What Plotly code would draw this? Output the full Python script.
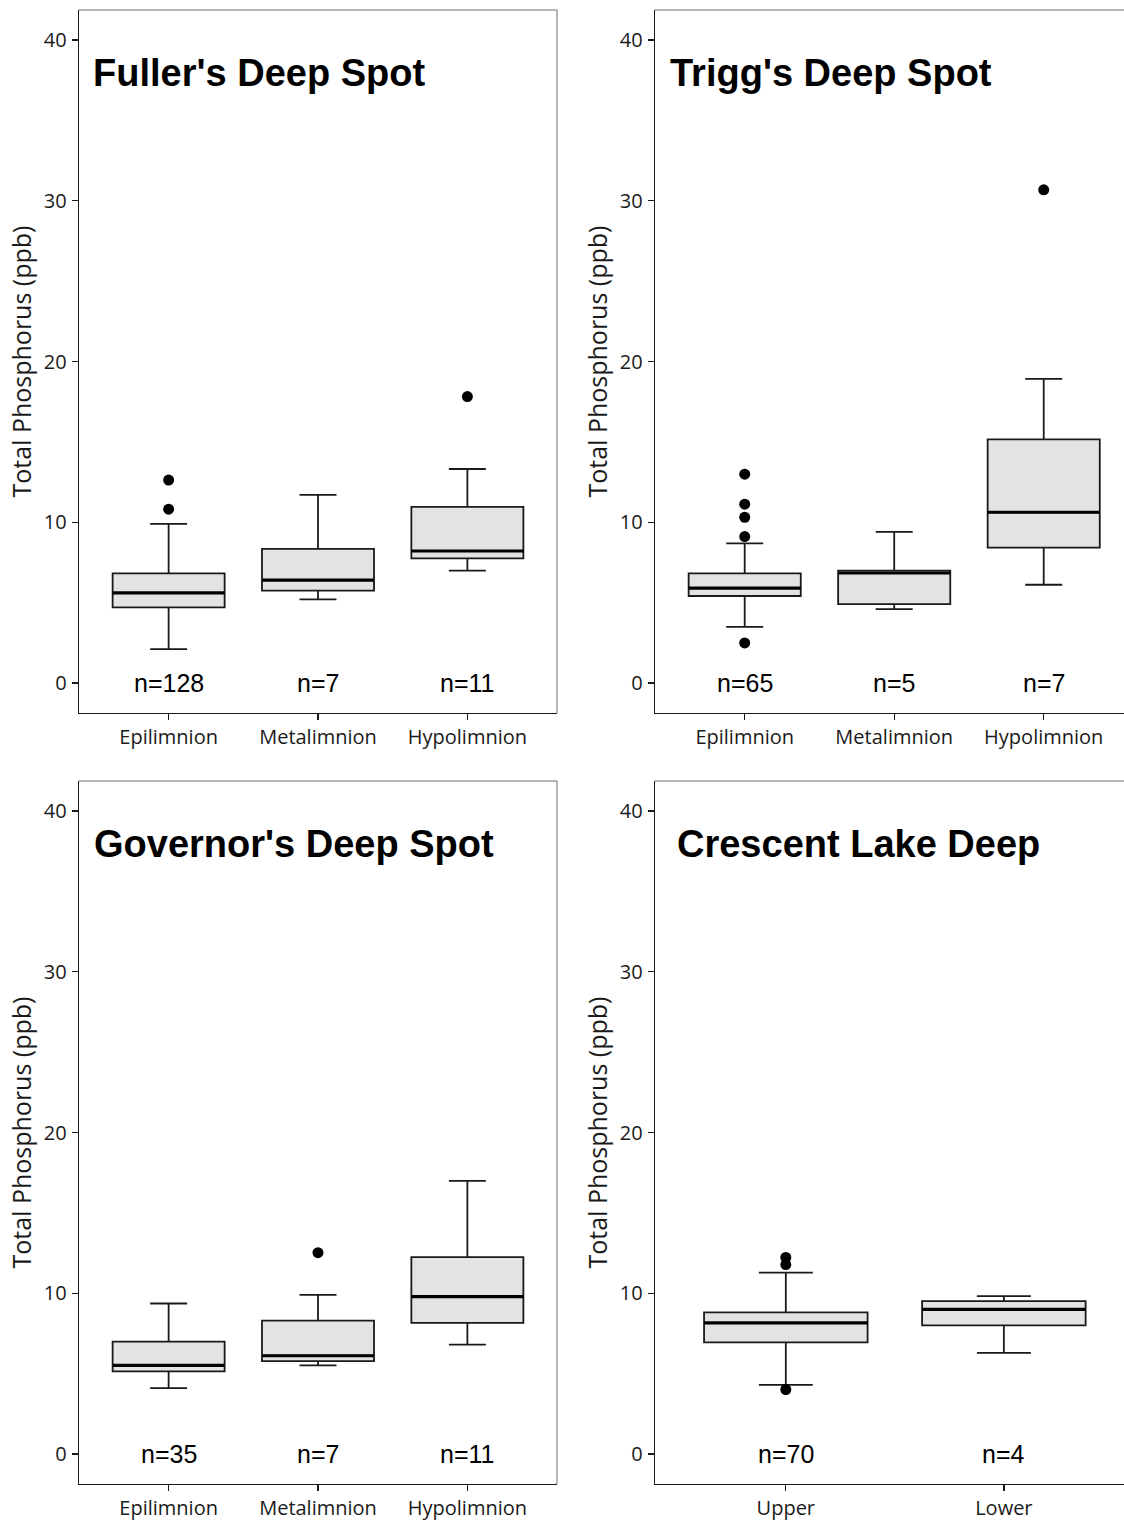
import plotly.graph_objects as go

W, H = 1124, 1520

# ---------------- data ----------------
titles = ["Fuller's Deep Spot", "Trigg's Deep Spot", "Governor's Deep Spot", "Crescent Lake Deep"]
layers3 = ["Epilimnion", "Metalimnion", "Hypolimnion"]
layers2 = ["Upper", "Lower"]
y_ticks = [0, 10, 20, 30, 40]
y_title = "Total Phosphorus (ppb)"

fuller_q1 = [4.70, 5.74, 7.75]
fuller_med = [5.61, 6.40, 8.21]
fuller_q3 = [6.82, 8.34, 10.96]
fuller_lo = [2.10, 5.20, 6.99]
fuller_hi = [9.90, 11.70, 13.31]
fuller_n = [128, 7, 11]
fuller_out_cat = ["Epilimnion", "Epilimnion", "Hypolimnion"]
fuller_out_val = [12.62, 10.81, 17.82]

trigg_q1 = [5.41, 4.91, 8.42]
trigg_med = [5.90, 6.84, 10.62]
trigg_q3 = [6.82, 6.99, 15.16]
trigg_lo = [3.49, 4.59, 6.11]
trigg_hi = [8.69, 9.40, 18.92]
trigg_n = [65, 5, 7]
trigg_out_cat = ["Epilimnion"] * 5 + ["Hypolimnion"]
trigg_out_val = [12.99, 11.12, 10.31, 9.11, 2.49, 30.68]

gov_q1 = [5.14, 5.78, 8.15]
gov_med = [5.51, 6.11, 9.79]
gov_q3 = [6.99, 8.30, 12.25]
gov_lo = [4.10, 5.51, 6.80]
gov_hi = [9.36, 9.90, 16.99]
gov_n = [35, 7, 11]
gov_out_cat = ["Metalimnion"]
gov_out_val = [12.52]

cres_q1 = [6.94, 8.00]
cres_med = [8.16, 8.99]
cres_q3 = [8.81, 9.51]
cres_lo = [4.30, 6.29]
cres_hi = [11.28, 9.82]
cres_n = [70, 4]
cres_out_cat = ["Upper", "Upper", "Upper"]
cres_out_val = [12.23, 11.78, 4.01]

panels = [
    dict(title=titles[0], cats=layers3, q1=fuller_q1, med=fuller_med, q3=fuller_q3,
         lo=fuller_lo, hi=fuller_hi, n=fuller_n, oc=fuller_out_cat, ov=fuller_out_val),
    dict(title=titles[1], cats=layers3, q1=trigg_q1, med=trigg_med, q3=trigg_q3,
         lo=trigg_lo, hi=trigg_hi, n=trigg_n, oc=trigg_out_cat, ov=trigg_out_val),
    dict(title=titles[2], cats=layers3, q1=gov_q1, med=gov_med, q3=gov_q3,
         lo=gov_lo, hi=gov_hi, n=gov_n, oc=gov_out_cat, ov=gov_out_val),
    dict(title=titles[3], cats=layers2, q1=cres_q1, med=cres_med, q3=cres_q3,
         lo=cres_lo, hi=cres_hi, n=cres_n, oc=cres_out_cat, ov=cres_out_val),
]

# ---------------- layout geometry (pixels) ----------------
col_px = [(79, 557), (655, 1124)]
row_px = [(10, 713), (781, 1484)]
x_ranges = [[-0.6, 2.6], [-0.6, 2.537], [-0.6, 2.6], [-0.6, 1.551]]
y_range = [-1.87, 41.87]
title_xoff = [0.025, 0.028, 0.027, 0.043]
BOX_W = 0.75
WHISK_W = 0.33
LINE_C = "#1a1a1a"
FILL_C = "#e3e3e3"
FRAME_C = "#6e6e6e"
TICK_FONT = dict(family="Open Sans, Noto Sans, sans-serif", size=20, color="#1a1a1a")
ARIAL = "Liberation Sans, Arial, sans-serif"

fig = go.Figure()
annotations = []
shapes = []

for k, p in enumerate(panels):
    r, c = divmod(k, 2)
    ax = "" if k == 0 else str(k + 1)
    xref, yref = "x" + ax, "y" + ax
    idx = list(range(len(p["cats"])))

    fig.add_trace(go.Box(
        x=idx, q1=p["q1"], median=p["med"], q3=p["q3"],
        lowerfence=p["lo"], upperfence=p["hi"],
        width=BOX_W, whiskerwidth=WHISK_W,
        fillcolor=FILL_C, line=dict(color=LINE_C, width=1.8),
        boxpoints=False, showlegend=False, hoverinfo="skip",
        xaxis=xref, yaxis=yref,
    ))
    # thicker median bars
    mx, my = [], []
    for i, m in zip(idx, p["med"]):
        mx += [i - BOX_W / 2, i + BOX_W / 2, None]
        my += [m, m, None]
    fig.add_trace(go.Scatter(x=mx, y=my, mode="lines",
                             line=dict(color="#000000", width=3.2),
                             showlegend=False, hoverinfo="skip",
                             xaxis=xref, yaxis=yref))
    # outliers
    ox = [p["cats"].index(cc) for cc in p["oc"]]
    fig.add_trace(go.Scatter(x=ox, y=p["ov"], mode="markers",
                             marker=dict(color="#000000", size=11),
                             showlegend=False, hoverinfo="skip",
                             xaxis=xref, yaxis=yref))

    x0, x1 = col_px[c]
    y0, y1 = row_px[r]
    xdom = [x0 / W, x1 / W]
    ydom = [1 - y1 / H, 1 - y0 / H]
    fig.update_layout(**{
        "xaxis" + ax: dict(domain=xdom, range=x_ranges[k], tickvals=idx, ticktext=p["cats"],
                           showgrid=False, zeroline=False, showline=True, linecolor=LINE_C,
                           linewidth=1.3, ticks="outside", ticklen=6, tickwidth=1.3,
                           tickcolor=LINE_C, tickfont=TICK_FONT, anchor=yref, fixedrange=True),
        "yaxis" + ax: dict(domain=ydom, range=y_range, tickvals=y_ticks,
                           showgrid=False, zeroline=False, showline=True, linecolor=LINE_C,
                           linewidth=1.3, ticks="outside", ticklen=6, tickwidth=1.3,
                           tickcolor=LINE_C, tickfont=TICK_FONT, anchor=xref, fixedrange=True,
                           ticklabelstandoff=1),
    })
    # gray frame: top line (and right line for the left column)
    shapes.append(dict(type="line", xref=xref + " domain", yref=yref + " domain",
                       x0=0, x1=1, y0=1, y1=1, line=dict(color=FRAME_C, width=1),
                       layer="below"))
    if c == 0:
        shapes.append(dict(type="line", xref=xref + " domain", yref=yref + " domain",
                           x0=1, x1=1, y0=0, y1=1, line=dict(color=FRAME_C, width=1),
                           layer="below"))
    # panel title
    annotations.append(dict(text=p["title"], xref=xref + " domain", yref=yref + " domain",
                            x=title_xoff[k], y=0.911, xanchor="left", yanchor="middle",
                            showarrow=False,
                            font=dict(family=ARIAL, size=38, color="#000000", weight="bold")))
    # n labels
    for i, nv in zip(idx, p["n"]):
        annotations.append(dict(text=f"n={nv}", xref=xref, yref=yref, x=i, y=0,
                                xanchor="center", yanchor="middle", showarrow=False,
                                font=dict(family=ARIAL, size=25, color="#000000")))
    # y-axis title
    annotations.append(dict(text=y_title, xref="paper", yref="paper",
                            x=(20 + (c * 576)) / W, y=1 - ((y0 + y1) / 2) / H,
                            xanchor="center", yanchor="middle", textangle=-90,
                            showarrow=False,
                            font=dict(family="Open Sans, Noto Sans, sans-serif", size=25,
                                      color="#1a1a1a")))

fig.update_layout(width=W, height=H, margin=dict(l=0, r=0, t=0, b=0),
                  paper_bgcolor="white", plot_bgcolor="white",
                  annotations=annotations, shapes=shapes, showlegend=False)

fig.write_html("out.html", config={"displayModeBar": False, "staticPlot": True},
               post_script="document.body.style.margin='0px';document.body.style.overflow='hidden';")
